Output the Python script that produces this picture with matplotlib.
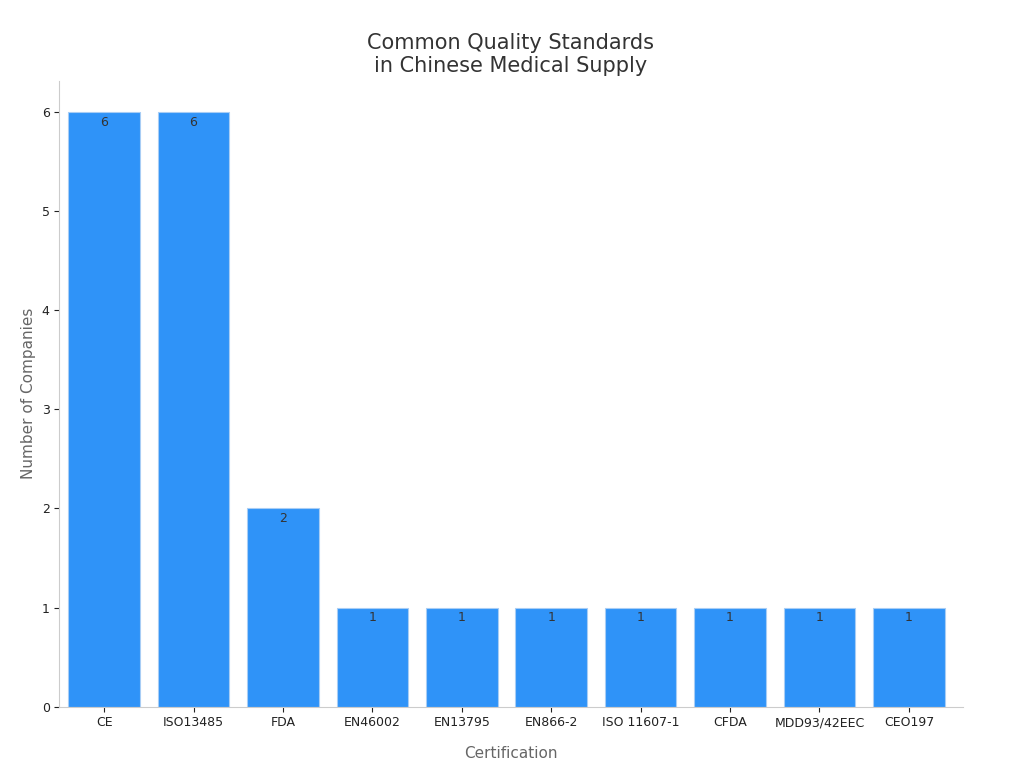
import matplotlib
matplotlib.use('Agg')
import matplotlib.pyplot as plt

# --- DATA ---
certs = ['CE', 'ISO13485', 'FDA', 'EN46002', 'EN13795', 'EN866-2',
         'ISO 11607-1', 'CFDA', 'MDD93/42EEC', 'CEO197']
counts = [6, 6, 2, 1, 1, 1, 1, 1, 1, 1]

fig, ax = plt.subplots(figsize=(10.24, 7.68), dpi=100)
fig.subplots_adjust(left=0.058, right=0.94, top=0.895, bottom=0.08)

bars = ax.bar(certs, counts, width=0.8, color='#2f93f8', edgecolor='#a8cdf5', linewidth=0.8)
for b, v in zip(bars, counts):
    ax.text(b.get_x() + b.get_width() / 2, v - 0.04, str(v), ha='center', va='top',
            fontsize=9, color='#333333')

ax.set_xlim(-0.5, len(certs) - 0.4)
ax.set_ylim(0, 6.32)
ax.set_title('Common Quality Standards\nin Chinese Medical Supply', fontsize=15, color='#333333')
ax.set_xlabel('Certification', fontsize=11, color='#666666', labelpad=12)
ax.set_ylabel('Number of Companies', fontsize=11, color='#666666')
ax.tick_params(labelsize=9, colors='#222222')
for s in ['top', 'right']:
    ax.spines[s].set_visible(False)
for s in ['left', 'bottom']:
    ax.spines[s].set_color('#cccccc')

fig.savefig('out.png')
